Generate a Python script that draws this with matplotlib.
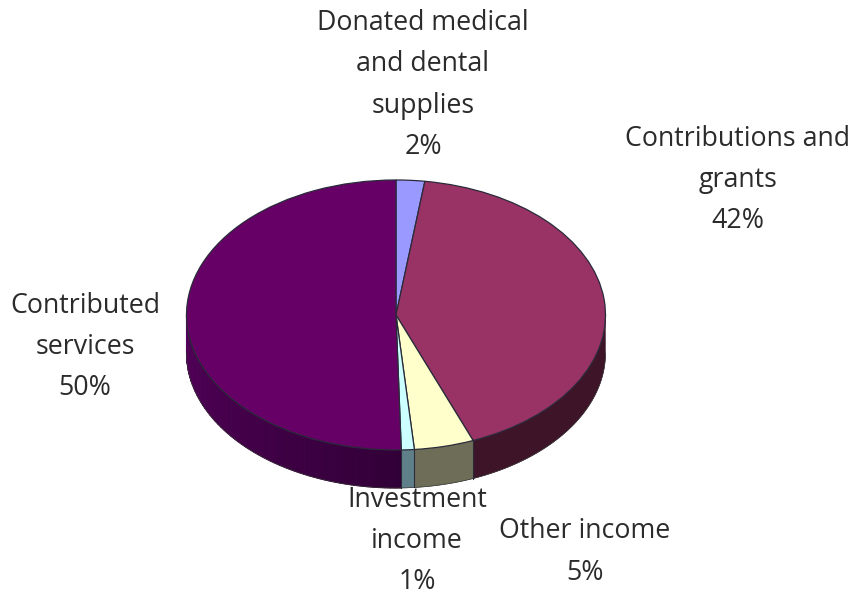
import numpy as np
import matplotlib
matplotlib.use('Agg')
import matplotlib.pyplot as plt
from matplotlib.colors import to_rgb

labels = ['Donated medical\nand dental\nsupplies\n2%', 'Contributions and\ngrants\n42%',
          'Other income\n5%', 'Investment\nincome\n1%', 'Contributed\nservices\n50%']
values = [2.2, 41.8, 4.6, 1.0, 50.4]
top_colors = ['#9999ff', '#993366', '#ffffcc', '#ccffff', '#660066']
side_colors = ['#5c5c99', '#3d1428', '#6e6e58', '#5f8088', '#3a003c']

W, H = 854, 598
CX, CY, RX, RY, DEPTH = 396, 315, 209.5, 135, 38
label_xy = [(423, 85), (738, 180), (585, 552), (417, 541), (85, 347)]

plt.rcParams['font.family'] = ['Open Sans', 'DejaVu Sans']
fig = plt.figure(figsize=(W / 100, H / 100), dpi=100, facecolor='white')
ax = fig.add_axes([(CX - 1.25 * RX) / W, 1 - (CY + 1.25 * RY) / H, 2.5 * RX / W, 2.5 * RY / H])

wedges, _ = ax.pie(values, colors=top_colors, startangle=90, counterclock=False,
                   wedgeprops=dict(edgecolor='#2a2a3a', linewidth=0.9), radius=1)
ax.set_aspect('auto')
ax.set_xlim(-1.25, 1.25)
ax.set_ylim(-1.25, 1.25)
for w in wedges:
    w.set_zorder(5)

d = DEPTH / RY
edges = np.cumsum([0] + values) / sum(values) * 360.0
for i, col in enumerate(side_colors):
    a0, a1 = max(edges[i], 90), min(edges[i + 1], 270)
    if a1 <= a0:
        continue
    t = np.radians(np.linspace(a0, a1, 200))
    x, y = np.sin(t), np.cos(t)
    if i == 4:
        n = 60
        for k in range(n):
            tt = np.radians(np.linspace(a0 + (a1 - a0) * k / n, a0 + (a1 - a0) * (k + 1) / n, 6))
            xx, yy = np.sin(tt), np.cos(tt)
            f = k / (n - 1)
            c = np.array(to_rgb('#320038')) * (1 - f) + np.array(to_rgb('#520058')) * f
            ax.fill(np.r_[xx, xx[::-1]], np.r_[yy, yy[::-1] - d], facecolor=c, edgecolor=c,
                    lw=0.8, zorder=2, clip_on=False)
    else:
        ax.fill(np.r_[x, x[::-1]], np.r_[y, y[::-1] - d], facecolor=col, edgecolor=col,
                lw=0.3, zorder=2.5, clip_on=False)
    ax.plot(x, y - d, color='#333333', lw=0.5, zorder=3, clip_on=False)
    if a0 > 90:
        ex, ey = np.sin(np.radians(a0)), np.cos(np.radians(a0))
        ax.plot([ex, ex], [ey, ey - d], color='#2a2a3a', lw=0.8, zorder=3, clip_on=False)

for lab, (px, py) in zip(labels, label_xy):
    fig.text(px / W, 1 - py / H, lab, ha='center', va='center', fontsize=19.3,
             color='#2b2b2b', linespacing=1.64, zorder=10)

fig.savefig('out.png', dpi=100, facecolor='white')
